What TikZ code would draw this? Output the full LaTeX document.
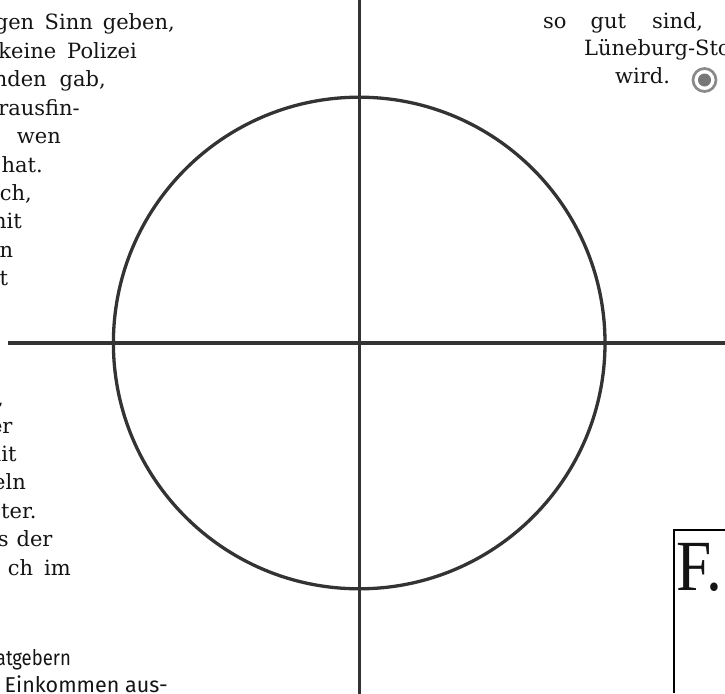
\documentclass[tikz,border=0pt]{standalone}
\usepackage{fontspec}
\setmainfont{DejaVu Serif}
\newfontfamily\sansf{Fira Sans}
\newfontfamily\bigserif{Liberation Serif}
\definecolor{axis}{HTML}{333333}
\definecolor{ink}{HTML}{141414}
\definecolor{ringgray}{HTML}{8A8A8A}
\definecolor{dotgray}{HTML}{777777}
\newcommand{\hs}[1]{\hspace{#1pt}}
\begin{document}
\begin{tikzpicture}[x=1pt,y=-1pt,
  bodyR/.style={font=\fontsize{21}{24}\selectfont,inner sep=0pt,anchor=base east,text=ink},
  bodyL/.style={font=\fontsize{21}{24}\selectfont,inner sep=0pt,anchor=base west,text=ink},
  sansR/.style={font=\sansf\fontsize{21.5}{24}\selectfont,inner sep=0pt,anchor=base east,text=ink},
  axisline/.style={draw=axis,line width=3.3pt},
  boxline/.style={draw=black,line width=2pt}]
\useasboundingbox (0,0) rectangle (725,693);
% left column, upper part
\node[bodyR] (l1) at (175,30) {gen\hs{10.5}Sinn\hs{10}geben,};
\node[bodyR] (l2) at (137,58.4) {keine\hs{11}Polizei};
\node[bodyR] (l3) at (106,86.8) {nden\hs{13}gab,};
\node[bodyR] (l4) at (80,115.2) {rausfin-};
\node[bodyR] (l5) at (61,143.6) {wen};
\node[bodyR] (l6) at (43,172) {hat.};
\node[bodyR] (l7) at (32,200.4) {ch,};
\node[bodyR] (l8) at (22,228.8) {nit};
\node[bodyR] (l9) at (13.3,257.2) {n};
\node[bodyR] (l10) at (8.3,285.6) {t};
% left column, lower part
\node[bodyR] (b1) at (4,405) {,};
\node[bodyR] (b2) at (12.7,433) {er};
\node[bodyR] (b3) at (16.7,461.4) {nit};
\node[bodyR] (b4) at (26,489.8) {eln};
\node[bodyR] (b5) at (36.7,518.2) {ter.};
\node[bodyR] (b6) at (52.7,546.6) {s\hs{8}der};
\node[bodyR] (b7) at (71,575) {ch\hs{11}im};
\node[sansR,xscale=0.86] (s1) at (71,665) {atgebern};
\node[sansR] (s2) at (168,692) {Einkommen aus-};
% right column
\node[bodyL] (r1) at (543,28.3) {so\hs{24}gut\hs{26}sind,};
\node[bodyL] (r2) at (584,56) {Lüneburg-Sto};
\node[bodyL] (r3) at (615,83.3) {wird.};
\node[circle,draw=ringgray,line width=2.7pt,minimum size=23pt,inner sep=0pt] (ring) at (704.5,80) {};
\node[circle,fill=dotgray,minimum size=13pt,inner sep=0pt] (dot) at (ring.center) {};
% box bottom right
\coordinate (bxa) at (674,693);
\coordinate (bxb) at (674,529.5);
\coordinate (bxc) at (726,529.5);
\draw[boxline] (bxa) -- (bxb) -- (bxc);
\node[font=\bigserif\fontsize{72}{72}\selectfont,inner sep=0pt,anchor=base west,text=ink,xscale=0.88] (F) at (676,590) {F.};
% cross and circle
\coordinate (ctr) at (359.2,343);
\coordinate (vt) at (359.2,-2);
\coordinate (vb) at (359.2,695);
\coordinate (hl) at (8,343);
\coordinate (hr) at (727,343);
\draw[axisline] (vt) -- (vb);
\draw[axisline] (hl) -- (hr);
\draw[axisline] (ctr) circle[radius=245.8];
\end{tikzpicture}
\end{document}
